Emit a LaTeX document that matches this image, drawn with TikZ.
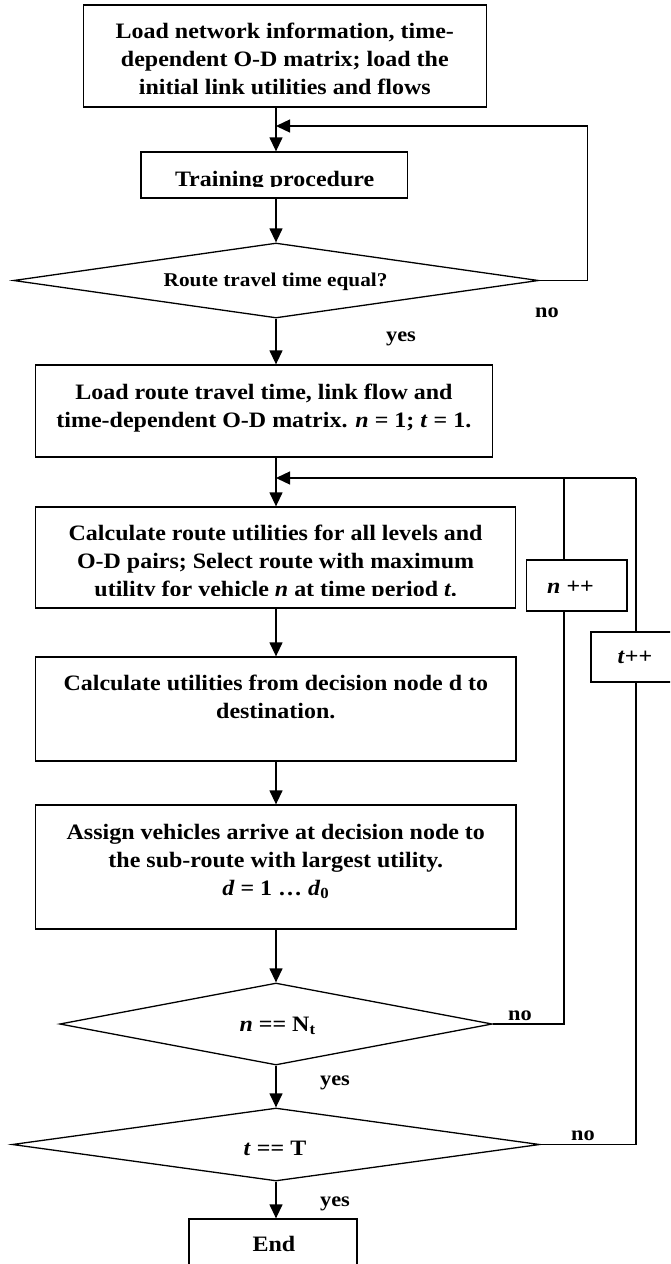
\documentclass[tikz,border=0pt]{standalone}
\usepackage{fontspec}
\setmainfont{Liberation Serif}[FakeStretch=1.09]
\usetikzlibrary{arrows.meta,shapes.geometric}
\tikzset{
  lbl/.style={font=\fontsize{22}{28}\selectfont\bfseries, inner sep=0pt, align=center},
  smalllbl/.style={font=\fontsize{20.5}{24}\selectfont\bfseries, inner sep=0pt},
  boxnode/.style={draw, line width=1.3pt, inner sep=0pt, rectangle},
  decnode/.style={draw, line width=1.3pt, diamond, inner sep=0pt},
  conn/.style={line width=1.3pt, -{Triangle[width=13pt,length=14pt]}},
  plainline/.style={line width=1.3pt},
}
\begin{document}
\begin{tikzpicture}[x=1pt,y=-1pt]
\useasboundingbox (0,0) rectangle (670,1264);
\clip (0,0) rectangle (670,1264);
\coordinate (ax) at (276,0);
% boxes
\node[boxnode, minimum width=403pt, minimum height=102pt] (b1) at (284.8,56) {};
\node[lbl] (t1) at (284.8,59.2) {Load network information, time-\\dependent O-D matrix; load the\\initial link utilities and flows};
\node[boxnode, minimum width=266.2pt, minimum height=46pt] (b2) at (274.1,175) {};
\begin{scope}
\clip (141,152) rectangle (407,186.4);
\node[lbl, anchor=base] (t2) at (274.6,186) {Training procedure};
\end{scope}
\node[decnode, minimum width=525pt, minimum height=75pt] (d1) at (276,280.5) {};
\node[lbl, font=\fontsize{19.5}{24}\selectfont\bfseries, anchor=base] (t3) at (275.6,286.7) {Route travel time equal?};
\node[boxnode, minimum width=456.8pt, minimum height=92pt] (b3) at (263.9,411) {};
\node[lbl] (t4) at (263.9,407.8) {Load route travel time, link flow and\\time-dependent O-D matrix. \textit{n} = 1; \textit{t} = 1.};
\node[boxnode, minimum width=480.3pt, minimum height=101pt] (b4) at (275.65,557.5) {};
\begin{scope}
\clip (35.5,507) rectangle (515.8,595.6);
\node[lbl] (t5) at (275.6,563) {Calculate route utilities for all levels and\\O-D pairs; Select route with maximum\\utility for vehicle \textit{n} at time period \textit{t}.};
\end{scope}
\node[boxnode, minimum width=100.5pt, minimum height=51pt] (nb) at (576.75,585.5) {};
\node[lbl, anchor=base] (tn) at (570.5,593) {\textit{n} ++};
\node[boxnode, minimum width=81pt, minimum height=50pt] (tb) at (631.5,657) {};
\node[lbl, anchor=base] (tt) at (635,663) {\textit{t}++};
\node[boxnode, minimum width=480.5pt, minimum height=104pt] (b5) at (275.75,709) {};
\node[lbl] (t6) at (275.8,697.4) {Calculate utilities from decision node d to\\destination.};
\node[boxnode, minimum width=480.5pt, minimum height=124pt] (b6) at (275.75,867) {};
\node[lbl] (t7) at (275.8,861) {Assign vehicles arrive at decision node to\\the sub-route with largest utility.\\\textit{d} = 1 … \textit{d}\textsubscript{0}};
\node[decnode, minimum width=432.6pt, minimum height=82pt] (d2) at (276,1024) {};
\node[lbl, anchor=base] (t8) at (277.6,1031.7) {\textit{n} == N\textsubscript{t}};
\node[decnode, minimum width=527.5pt, minimum height=73pt] (d3) at (276,1144.5) {};
\node[lbl, anchor=base] (t9) at (275,1155) {\textit{t} == T};
\node[boxnode, minimum width=168pt, minimum height=61pt] (eb) at (273,1249.5) {};
\node[lbl, anchor=base] (t10) at (274,1251.7) {End};
% yes / no labels
\node[smalllbl, anchor=base] (no1) at (547,317) {no};
\node[smalllbl, anchor=base] (yes1) at (401,341.7) {yes};
\node[smalllbl, anchor=base] (no2) at (520,1020) {no};
\node[smalllbl, anchor=base] (yes2) at (335,1085) {yes};
\node[smalllbl, anchor=base] (no3) at (583,1140) {no};
\node[smalllbl, anchor=base] (yes3) at (335,1206.7) {yes};
% main flow
\draw[conn] (b1.south -| ax) -- (b2.north -| ax);
\draw[conn] (b2.south -| ax) -- (d1.north);
\draw[conn] (d1.south) -- (b3.north -| ax);
\draw[conn] (b3.south -| ax) -- (b4.north -| ax);
\draw[conn] (b4.south -| ax) -- (b5.north -| ax);
\draw[conn] (b5.south -| ax) -- (b6.north -| ax);
\draw[conn] (b6.south -| ax) -- (d2.north);
\draw[conn] (d2.south) -- (d3.north);
\draw[conn] (d3.south) -- (eb.north -| ax);
% first loop
\coordinate (j1) at (276,126);
\coordinate (r1) at (587.6,126);
\draw[plainline] (d1.east) -- (d1.east -| r1) -- (r1);
\draw[conn] (r1) -- (j1);
% second loops
\coordinate (j2) at (276,478);
\coordinate (nl) at (564,478);
\coordinate (tl) at (636,478);
\draw[conn] (tl) -- (j2);
\draw[plainline] (nl) -- (nl |- nb.north);
\draw[plainline] (nl |- nb.south) -- (nl |- d2.east) -- (d2.east);
\draw[plainline] (tl) -- (tl |- tb.north);
\draw[plainline] (tl |- tb.south) -- (tl |- d3.east) -- (d3.east);
\end{tikzpicture}
\end{document}
